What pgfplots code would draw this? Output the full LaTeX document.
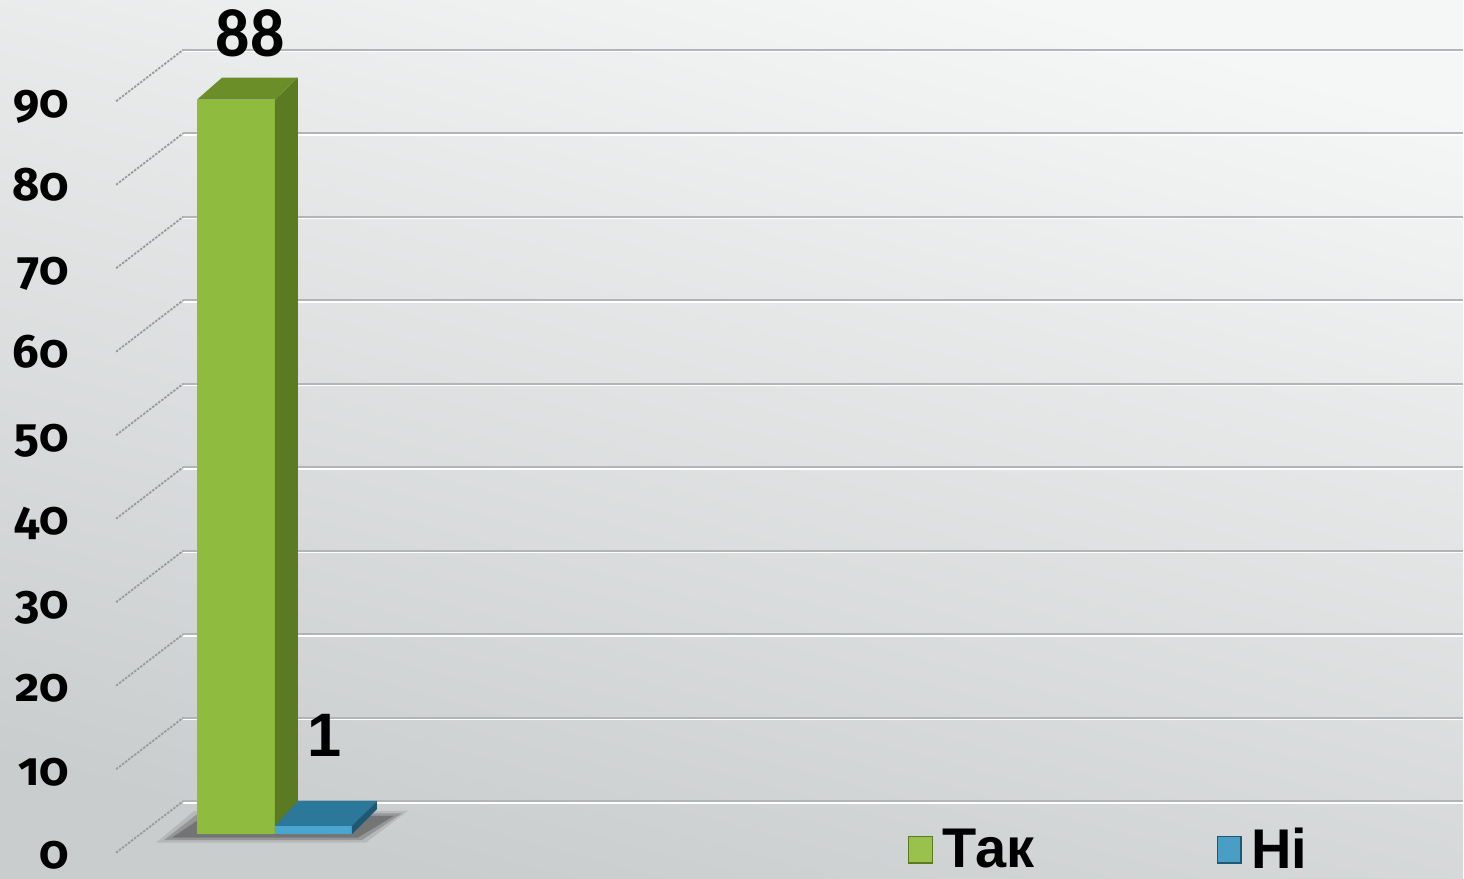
\documentclass[border=0pt]{standalone}
\usepackage{fontspec}
\setmainfont{Liberation Sans}
\newfontfamily\tickfont{Fira Sans}[Numbers=OldStyle]
\newfontfamily\calfont{Carlito}
\usepackage{pgfplots}
\pgfplotsset{compat=1.18}
\definecolor{bgtop}{RGB}{245,246,246}
\definecolor{bgbot}{RGB}{202,205,206}
\definecolor{gfront}{RGB}{143,187,62}
\definecolor{glegend}{RGB}{152,194,76}
\definecolor{gside}{RGB}{92,122,34}
\definecolor{gtop}{RGB}{108,142,40}
\definecolor{bfront}{RGB}{72,166,208}
\definecolor{blegend}{RGB}{74,158,198}
\definecolor{btop}{RGB}{44,120,154}
\definecolor{bside}{RGB}{30,88,114}
\definecolor{gridc}{RGB}{178,181,183}
\begin{document}
\begin{tikzpicture}
\begin{axis}[
  width=732pt, height=439.5pt, scale only axis,
  xmin=0, xmax=1464, ymin=-5.266, ymax=99.93,
  axis line style={draw=none},
  major tick length=0pt,
  xtick=\empty,
  ytick={0,10,...,90},
  /pgf/number format/assume math mode=true,
  yticklabel style={anchor=base east, inner sep=0pt, xshift=34.5pt, yshift=-17.2pt,
    font=\tickfont\bfseries\fontsize{23.5pt}{23.5pt}\selectfont},
  axis background/.style={shade, top color=bgtop, bottom color=bgbot, shading angle=-15},
  clip=false,
  unbounded coords=jump,
  legend columns=2,
  legend style={draw=none, fill=none, at={(axis cs:908,-1.85)}, anchor=west,
    inner sep=0pt, nodes={inner sep=0pt},
    font=\bfseries\fontsize{28pt}{28pt}\selectfont,
    /tikz/every odd column/.append style={column sep=5pt},
    /tikz/every even column/.append style={column sep=91pt}},
]
% grid: white highlight, gray lines, diagonals
\addplot[forget plot, white, line width=0.9pt] coordinates {
(183,3.75) (1464,3.75) (183,nan) (183,13.75) (1464,13.75) (183,nan)
(183,23.75) (1464,23.75) (183,nan) (183,33.75) (1464,33.75) (183,nan)
(183,43.75) (1464,43.75) (183,nan) (183,53.75) (1464,53.75) (183,nan)
(183,63.75) (1464,63.75) (183,nan) (183,73.75) (1464,73.75) (183,nan)
(183,83.75) (1464,83.75) (183,nan) (183,93.75) (1464,93.75)};
\addplot[forget plot, gridc, line width=1pt] coordinates {
(183,3.95) (1464,3.95) (183,nan) (183,13.95) (1464,13.95) (183,nan)
(183,23.95) (1464,23.95) (183,nan) (183,33.95) (1464,33.95) (183,nan)
(183,43.95) (1464,43.95) (183,nan) (183,53.95) (1464,53.95) (183,nan)
(183,63.95) (1464,63.95) (183,nan) (183,73.95) (1464,73.95) (183,nan)
(183,83.95) (1464,83.95) (183,nan) (183,93.95) (1464,93.95)};
\addplot[forget plot, gridc!85!black, line width=0.9pt, dash pattern=on 1.2pt off 0.7pt] coordinates {
(116,-2.2) (183,3.95) (183,nan) (116,7.8) (183,13.95) (183,nan)
(116,17.8) (183,23.95) (183,nan) (116,27.8) (183,33.95) (183,nan)
(116,37.8) (183,43.95) (183,nan) (116,47.8) (183,53.95) (183,nan)
(116,57.8) (183,63.95) (183,nan) (116,67.8) (183,73.95) (183,nan)
(116,77.8) (183,83.95) (183,nan) (116,87.8) (183,93.95)};
% shadow
\addplot[forget plot, draw=none, fill=black, fill opacity=0.10] coordinates {(156,-1.0) (366,-1.0) (408,2.8) (194,2.8)} -- cycle;
\addplot[forget plot, draw=none, fill=black, fill opacity=0.18] coordinates {(164,-0.7) (362,-0.7) (402,2.5) (198,2.5)} -- cycle;
\addplot[forget plot, draw=none, fill=black, fill opacity=0.22] coordinates {(172,-0.4) (358,-0.4) (394,2.2) (204,2.2)} -- cycle;
% green bar
\addplot[ybar, bar width=78, bar shift=0, draw=none, fill=gfront,
  legend image code/.code={\fill[glegend] (0pt,-6.9pt) rectangle (12.5pt,6.9pt);
     \draw[draw=gside, fill=none, line width=0.6pt] (0.3pt,-6.6pt) rectangle (12.2pt,6.6pt);},
  nodes near coords,
  every node near coord/.append style={font=\calfont\bfseries\fontsize{34pt}{34pt}\selectfont,
     anchor=base, inner sep=0pt, xshift=7pt, yshift=21.5pt, text=black}]
  coordinates {(236,88)};
\addlegendentry{Так}
\addplot[forget plot, draw=none, fill=gside] coordinates {(275,0) (275,88) (298,90.63) (298,2.63)} -- cycle;
\addplot[forget plot, draw=none, fill=gtop] coordinates {(197,88) (222,90.63) (298,90.63) (275,88)} -- cycle;
% blue bar
\addplot[ybar, bar width=77, bar shift=0, draw=none, fill=bfront,
  legend image code/.code={\fill[blegend] (0pt,-6.9pt) rectangle (12.5pt,6.9pt);
     \draw[draw=bside, fill=none, line width=0.6pt] (0.3pt,-6.6pt) rectangle (12.2pt,6.6pt);},
  nodes near coords,
  every node near coord/.append style={font=\bfseries\fontsize{30.7pt}{30.7pt}\selectfont,
     anchor=base, inner sep=0pt, xshift=5.75pt, yshift=34.8pt, text=black}]
  coordinates {(313.5,1)};
\addlegendentry{Ні}
\addplot[forget plot, draw=none, fill=btop] coordinates {(275,1) (298,3.99) (377,3.99) (352,1)} -- cycle;
\addplot[forget plot, draw=none, fill=bside] coordinates {(352,0) (352,1) (377,3.99) (377,2.99)} -- cycle;
\end{axis}
\end{tikzpicture}
\end{document}
